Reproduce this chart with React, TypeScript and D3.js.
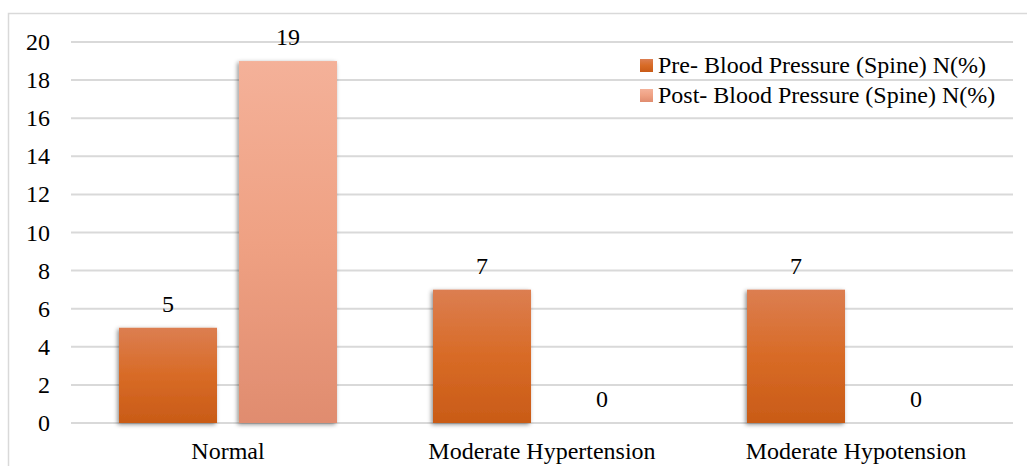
import React from "react";
import * as d3 from "d3";

const categories = ["Normal", "Moderate Hypertension", "Moderate Hypotension"];
const seriesNames = ["Pre- Blood Pressure (Spine) N(%)", "Post- Blood Pressure (Spine) N(%)"];
const preValues = [5, 7, 7];
const postValues = [19, 0, 0];
const yTicks = [0, 2, 4, 6, 8, 10, 12, 14, 16, 18, 20];

const W = 1027;
const H = 466;
const margin = { left: 71, right: 14, top: 42, bottom: 43 };
const FONT = "'Liberation Serif', 'Times New Roman', serif";

export default function App() {
  const x0 = d3
    .scaleBand<string>()
    .domain(categories)
    .range([margin.left, W - margin.right])
    .paddingInner(0)
    .paddingOuter(0);
  const bw = x0.bandwidth();
  const x1 = d3
    .scaleBand<string>()
    .domain(["pre", "post"])
    .range([bw * 0.1529, bw * (1 - 0.1529)])
    .paddingInner(0.1833)
    .paddingOuter(0);
  const y = d3.scaleLinear().domain([0, 20]).range([H - margin.bottom, margin.top]);

  const series = [
    { key: "pre", values: preValues, grad: "gPre" },
    { key: "post", values: postValues, grad: "gPost" },
  ];

  return (
    <svg
      width={W}
      height={H}
      style={{ position: "absolute", left: 0, top: 0, background: "#fff", fontFamily: FONT }}
    >
      <defs>
        <linearGradient id="gPre" x1="0" y1="0" x2="0" y2="1">
          <stop offset="0" stopColor="#DC7E51" />
          <stop offset="0.5" stopColor="#D86B26" />
          <stop offset="1" stopColor="#C95B17" />
        </linearGradient>
        <linearGradient id="gPost" x1="0" y1="0" x2="0" y2="1">
          <stop offset="0" stopColor="#F4B199" />
          <stop offset="0.5" stopColor="#EFA183" />
          <stop offset="1" stopColor="#E08C6F" />
        </linearGradient>
        <filter id="shadow" x="-20%" y="-10%" width="140%" height="120%">
          <feDropShadow dx="-1.5" dy="1.5" stdDeviation="2.2" floodColor="#000" floodOpacity="0.45" />
        </filter>
      </defs>
      <rect x={8.5} y={13.5} width={W + 10} height={H + 10} fill="#fff" stroke="#d9d9d9" strokeWidth={1.5} />
      {yTicks.map((t) => (
        <g key={t}>
          <line
            x1={margin.left}
            x2={W - margin.right}
            y1={y(t)}
            y2={y(t)}
            stroke="#d9d9d9"
            strokeWidth={2}
          />
          <text x={50} y={y(t) + 8} textAnchor="end" fontSize={24} fill="#000">
            {t}
          </text>
        </g>
      ))}
      {categories.map((c, i) => (
        <g key={c}>
          {series.map((s) => {
            const v = s.values[i];
            const bx = (x0(c) as number) + (x1(s.key) as number);
            const bwid = x1.bandwidth();
            return (
              <g key={s.key}>
                {v > 0 && (
                  <rect
                    x={bx}
                    y={y(v)}
                    width={bwid}
                    height={y(0) - y(v)}
                    fill={`url(#${s.grad})`}
                    filter="url(#shadow)"
                  />
                )}
                <text x={bx + bwid / 2} y={y(v) - 16} textAnchor="middle" fontSize={24} fill="#000">
                  {v}
                </text>
              </g>
            );
          })}
          <text
            x={(x0(c) as number) + bw / 2}
            y={459}
            textAnchor="middle"
            fontSize={24}
            fill="#000"
          >
            {c}
          </text>
        </g>
      ))}
      {series.map((s, i) => (
        <g key={s.key} transform={`translate(640, ${59 + i * 30})`}>
          <rect x={0} y={0} width={13} height={13} fill={`url(#${s.grad})`} />
          <text x={18} y={14} fontSize={24} fill="#000">
            {seriesNames[i]}
          </text>
        </g>
      ))}
    </svg>
  );
}
